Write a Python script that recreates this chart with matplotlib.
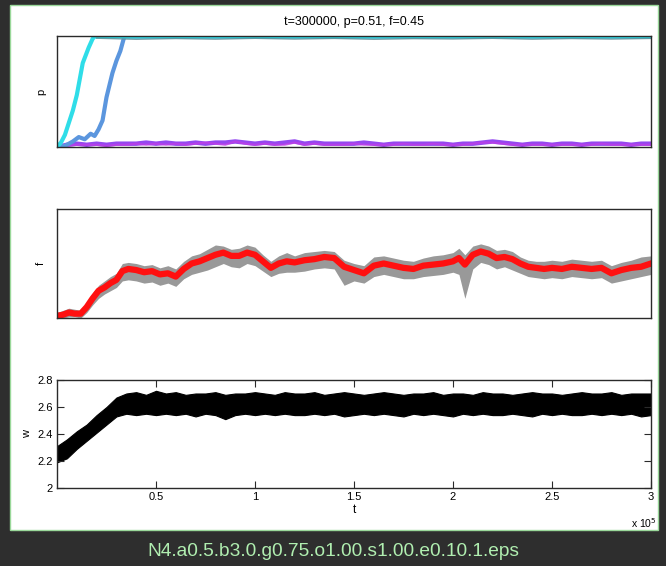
import numpy as np
import matplotlib
matplotlib.use('Agg')
import matplotlib.pyplot as plt
from matplotlib.patches import Rectangle

plt.rcParams['font.family'] = ['Liberation Sans', 'DejaVu Sans']

# time grid for the sampled traces (units of steps)
t_grid = np.arange(0, 300001, 5000)

# --- p: four strategy frequencies ---
p_cyan_t = [0, 2000, 4000, 6000, 8000, 10000, 13000, 16000, 18000, 19000, 300000]
p_cyan = [0.0, 0.04, 0.11, 0.22, 0.33, 0.47, 0.76, 0.90, 0.98, 1.0, 1.0]
p_blue_t = [0, 4000, 8000, 11000, 14000, 17000, 19000, 21000, 23000, 25000,
            28000, 30000, 32000, 34000, 300000]
p_blue = [0.0, 0.01, 0.05, 0.09, 0.07, 0.12, 0.10, 0.16, 0.24, 0.45,
          0.67, 0.78, 0.87, 1.0, 1.0]
# noisy trace just below p=1 once both strategies have fixed
p_top_t = [20000, 40000, 60000, 80000, 100000, 120000, 140000, 160000, 180000,
           200000, 220000, 240000, 260000, 280000, 300000]
p_top = [0.985, 0.975, 0.982, 0.976, 0.984, 0.977, 0.983, 0.975, 0.981,
         0.978, 0.984, 0.976, 0.982, 0.977, 0.983]
p_violet = [0.0, 0.02, 0.03, 0.02, 0.03, 0.02, 0.03, 0.03, 0.03, 0.04, 0.03,
            0.04, 0.03, 0.03, 0.04, 0.03, 0.04, 0.04, 0.05, 0.04, 0.03,
            0.04, 0.03, 0.04, 0.05, 0.03, 0.04, 0.03, 0.03, 0.03, 0.03,
            0.04, 0.03, 0.02, 0.03, 0.03, 0.03, 0.03, 0.03, 0.03, 0.02,
            0.03, 0.03, 0.04, 0.05, 0.04, 0.03, 0.02, 0.03, 0.03, 0.02,
            0.03, 0.03, 0.02, 0.03, 0.03, 0.03, 0.03, 0.02, 0.03, 0.03]
p_magenta = [0.0, 0.01, 0.02, 0.02, 0.02, 0.01, 0.02, 0.02, 0.03, 0.02, 0.03,
             0.02, 0.03, 0.02, 0.03, 0.04, 0.03, 0.02, 0.05, 0.03, 0.02,
             0.03, 0.02, 0.02, 0.04, 0.02, 0.03, 0.02, 0.02, 0.02, 0.03,
             0.02, 0.02, 0.02, 0.02, 0.03, 0.02, 0.02, 0.03, 0.02, 0.02,
             0.02, 0.03, 0.04, 0.04, 0.03, 0.02, 0.02, 0.02, 0.02, 0.02,
             0.02, 0.02, 0.02, 0.02, 0.03, 0.02, 0.02, 0.02, 0.02, 0.02]

# --- f: smoothed mean (red) with raw spread (black) ---
f_t = [0, 3, 6, 9, 12, 15, 18, 21, 24, 27, 30, 33, 36, 40, 44, 48, 52, 56, 60,
       64, 68, 72, 76, 80, 84, 88, 92, 96, 100, 104, 108, 112, 116, 120, 125,
       130, 135, 140, 145, 150, 155, 160, 165, 170, 175, 180, 185, 190, 195,
       200, 203, 206, 210, 214, 218, 222, 226, 230, 234, 238, 242, 246, 250,
       255, 260, 265, 270, 275, 280, 285, 290, 295, 300]
f_red = [0.02, 0.03, 0.05, 0.04, 0.04, 0.10, 0.18, 0.25, 0.28, 0.32, 0.35,
         0.43, 0.45, 0.44, 0.42, 0.43, 0.40, 0.41, 0.38, 0.45, 0.50, 0.52,
         0.55, 0.58, 0.60, 0.57, 0.57, 0.60, 0.58, 0.52, 0.46, 0.50, 0.52,
         0.51, 0.53, 0.54, 0.56, 0.55, 0.47, 0.44, 0.41, 0.48, 0.50, 0.48,
         0.46, 0.45, 0.48, 0.49, 0.50, 0.52, 0.55, 0.49, 0.58, 0.61, 0.59,
         0.55, 0.56, 0.54, 0.50, 0.47, 0.46, 0.45, 0.46, 0.45, 0.47, 0.46,
         0.45, 0.46, 0.41, 0.44, 0.46, 0.47, 0.50]
f_hi = [0.05, 0.07, 0.09, 0.08, 0.07, 0.14, 0.23, 0.30, 0.34, 0.38, 0.41,
        0.50, 0.51, 0.50, 0.48, 0.49, 0.46, 0.48, 0.45, 0.52, 0.57, 0.59,
        0.63, 0.67, 0.66, 0.63, 0.64, 0.67, 0.65, 0.58, 0.52, 0.57, 0.60,
        0.57, 0.60, 0.61, 0.62, 0.61, 0.53, 0.50, 0.48, 0.56, 0.57, 0.55,
        0.53, 0.52, 0.55, 0.57, 0.58, 0.60, 0.64, 0.58, 0.66, 0.68, 0.66,
        0.62, 0.63, 0.61, 0.56, 0.53, 0.52, 0.52, 0.53, 0.52, 0.54, 0.53,
        0.52, 0.53, 0.48, 0.51, 0.53, 0.56, 0.57]
f_lo = [0.00, 0.00, 0.01, 0.01, 0.00, 0.05, 0.12, 0.18, 0.22, 0.25, 0.28,
        0.34, 0.35, 0.34, 0.32, 0.33, 0.30, 0.32, 0.29, 0.36, 0.40, 0.42,
        0.44, 0.47, 0.50, 0.47, 0.46, 0.50, 0.48, 0.43, 0.38, 0.41, 0.42,
        0.42, 0.43, 0.45, 0.46, 0.45, 0.30, 0.34, 0.32, 0.38, 0.40, 0.38,
        0.36, 0.36, 0.38, 0.39, 0.40, 0.42, 0.40, 0.18, 0.45, 0.51, 0.49,
        0.45, 0.47, 0.44, 0.41, 0.38, 0.37, 0.36, 0.37, 0.36, 0.38, 0.37,
        0.36, 0.37, 0.32, 0.34, 0.36, 0.38, 0.40]

# --- w: mean payoff band ---
w_hi = [2.31, 2.36, 2.42, 2.47, 2.54, 2.60, 2.67, 2.70, 2.71, 2.69, 2.72,
        2.70, 2.71, 2.69, 2.70, 2.70, 2.71, 2.69, 2.70, 2.70, 2.71, 2.70,
        2.69, 2.71, 2.70, 2.70, 2.71, 2.69, 2.70, 2.71, 2.70, 2.69, 2.70,
        2.71, 2.70, 2.69, 2.70, 2.70, 2.71, 2.69, 2.70, 2.70, 2.69, 2.71,
        2.70, 2.70, 2.69, 2.70, 2.71, 2.70, 2.70, 2.69, 2.70, 2.71, 2.70,
        2.70, 2.71, 2.69, 2.70, 2.70, 2.70]
w_lo = [2.19, 2.22, 2.29, 2.35, 2.41, 2.47, 2.53, 2.55, 2.54, 2.55, 2.54,
        2.55, 2.54, 2.55, 2.53, 2.55, 2.54, 2.51, 2.54, 2.55, 2.54, 2.55,
        2.54, 2.55, 2.54, 2.54, 2.55, 2.54, 2.55, 2.53, 2.54, 2.55, 2.54,
        2.55, 2.54, 2.53, 2.55, 2.54, 2.55, 2.54, 2.53, 2.55, 2.54, 2.55,
        2.54, 2.54, 2.55, 2.54, 2.53, 2.55, 2.54, 2.55, 2.54, 2.54, 2.55,
        2.54, 2.55, 2.54, 2.55, 2.53, 2.54]

w_ticks = [2, 2.2, 2.4, 2.6, 2.8]
t_ticks = [0.5e5, 1e5, 1.5e5, 2e5, 2.5e5, 3e5]
t_ticklabels = ['0.5', '1', '1.5', '2', '2.5', '3']

fig = plt.figure(figsize=(6.66, 5.66), dpi=100)
fig.patch.set_facecolor('#2e2e2e')
W, H = 666.0, 566.0
fig.patches.append(Rectangle((10 / W, 1 - 530 / H), 648 / W, 525 / H,
                             transform=fig.transFigure, facecolor='white',
                             edgecolor='#9ad89a', linewidth=1.0, zorder=-5))

def make_ax(top, bottom):
    return fig.add_axes([57 / W, 1 - bottom / H, 594 / W, (bottom - top) / H])

ax1 = make_ax(36, 147)
ax2 = make_ax(209, 318)
ax3 = make_ax(380, 488)

for ax in (ax1, ax2, ax3):
    ax.set_xlim(0, 3e5)
    for s in ax.spines.values():
        s.set_color('#2a2a2a')
        s.set_linewidth(1.0)

# p panel
ax1.plot(t_grid, p_violet, color='#9448f0', lw=3.2)
ax1.plot(t_grid, p_magenta, color='#c23ee6', lw=1.6, alpha=0.7)
ax1.plot(p_blue_t, p_blue, color='#5b96de', lw=3)
ax1.plot(p_cyan_t, p_cyan, color='#2fdde8', lw=3)
ax1.plot(p_top_t, p_top, color='#5a8f98', lw=1.0, alpha=0.8)
ax1.set_ylim(0, 1.005)
ax1.set_xticks([])
ax1.set_yticks([])
ax1.set_ylabel('p', fontsize=8, labelpad=8)
ax1.set_title('t=300000, p=0.51, f=0.45', fontsize=9, pad=8)

# f panel
f_tt = np.array(f_t) * 1000
ax2.fill_between(f_tt, f_lo, f_hi, color='black', alpha=0.4, lw=0)
ax2.plot(f_tt, f_red, color='#ff1010', lw=4.5)
ax2.set_ylim(0, 1)
ax2.set_xticks([])
ax2.set_yticks([])
ax2.set_ylabel('f', fontsize=8, labelpad=8)

# w panel
ax3.fill_between(t_grid, w_lo, w_hi, color='black', lw=0.8, edgecolor='black')
ax3.set_ylim(2, 2.8)
ax3.set_yticks(w_ticks)
ax3.set_yticklabels(['2', '2.2', '2.4', '2.6', '2.8'])
ax3.set_xticks(t_ticks)
ax3.set_xticklabels(t_ticklabels)
ax3.tick_params(direction='in', top=True, right=True, labelsize=8,
                length=5, width=0.8, color='#2a2a2a', pad=3)
ax3.set_xlabel('t', fontsize=8.5, labelpad=1)
ax3.set_ylabel('w', fontsize=8, labelpad=4)
fig.text(631 / W, 1 - 523 / H, r'x 10$^5$', fontsize=7.5, ha='left', va='center')

fig.text(333 / W, 1 - 551 / H, 'N4.a0.5.b3.0.g0.75.o1.00.s1.00.e0.10.1.eps',
         color='#b0eeb0', fontsize=13.8, ha='center', va='center')

fig.savefig('out.png', dpi=100, facecolor=fig.get_facecolor())
